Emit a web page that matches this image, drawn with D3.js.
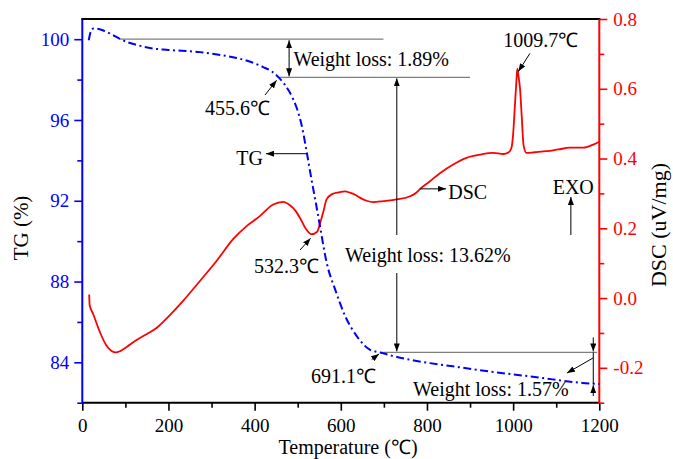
<!DOCTYPE html>
<html>
<head>
<meta charset="utf-8">
<script src="https://cdn.jsdelivr.net/npm/d3@7"></script>
<style>
  html, body { margin: 0; padding: 0; background: #fff; }
  svg { display: block; }
  text { font-family: "Liberation Serif", "Times New Roman", serif; }
</style>
</head>
<body>
<svg id="chart" width="673" height="459"></svg>
<script>
// Thermogravimetric (TG) curve: temperature (°C) vs. remaining mass (%)
const tgTemp = [15, 20, 26, 35, 50, 70, 87, 105, 126, 157, 200, 273, 320, 358, 390, 420, 440, 455.6,
  470, 490, 500, 509, 521, 532, 542, 552, 567, 587, 610, 637, 668, 691.1, 720, 760, 807, 860, 910,
  962, 1020, 1070, 1117, 1160, 1200];
const tgValue = [99.95, 100.4, 100.53, 100.52, 100.42, 100.22, 100.02, 99.85, 99.72, 99.56, 99.47,
  99.36, 99.22, 99.07, 98.88, 98.62, 98.4, 98.11, 97.75, 97.0, 96.45, 95.75, 94.4, 93.05, 91.9, 90.7,
  88.95, 87.6, 86.3, 85.3, 84.62, 84.49, 84.32, 84.13, 83.96, 83.8, 83.65, 83.5, 83.35, 83.22, 83.08,
  82.98, 82.92];

// Differential scanning calorimetry (DSC) curve: temperature (°C) vs. heat flow (uV/mg)
const dscTemp = [16, 17, 25, 41, 56, 68, 78, 88, 103, 126, 150, 173, 196, 234, 273, 312, 350, 382,
  412, 443, 466, 482, 495, 506, 518, 532.3, 545, 552, 560, 567, 580, 595, 610, 621, 633, 644, 660,
  675, 699, 730, 761, 775, 784, 807, 830, 861, 892, 923, 954, 977, 990, 996, 1000, 1004, 1007,
  1009.7, 1012, 1016, 1020, 1024, 1031, 1050, 1078, 1105, 1132, 1163, 1186, 1200];
const dscValue = [0.01, -0.02, -0.045, -0.098, -0.136, -0.152, -0.156, -0.152, -0.14, -0.12,
  -0.103, -0.085, -0.058, -0.008, 0.049, 0.107, 0.169, 0.207, 0.235, 0.268, 0.276, 0.266, 0.25,
  0.228, 0.2, 0.183, 0.19, 0.215, 0.25, 0.283, 0.298, 0.303, 0.306, 0.302, 0.296, 0.288, 0.279,
  0.275, 0.278, 0.283, 0.292, 0.302, 0.313, 0.335, 0.358, 0.383, 0.402, 0.411, 0.416, 0.413, 0.418,
  0.43, 0.47, 0.55, 0.61, 0.658, 0.64, 0.6, 0.52, 0.44, 0.416, 0.418, 0.421, 0.426, 0.431, 0.431,
  0.44, 0.448];

// Tick labels
const xTicks = [0, 200, 400, 600, 800, 1000, 1200];
const xMinorTicks = [100, 300, 500, 700, 900, 1100];
const tgTicks = [84, 88, 92, 96, 100];
const tgMinorTicks = [82, 86, 90, 94, 98];
const dscTicks = [-0.2, 0.0, 0.2, 0.4, 0.6, 0.8];
const dscMinorTicks = [-0.3, -0.1, 0.1, 0.3, 0.5, 0.7];

// Characteristic temperatures and mass-loss steps
const onsetTemp = 455.6;
const endTemp = 691.1;
const dscMinTemp = 532.3;
const dscPeakTemp = 1009.7;
const lossSteps = [1.89, 13.62, 1.57];

const svg = d3.select("#chart");
const L = 82.3, R = 599.3, T = 19, B = 402.7;
const BLUE = "#0000ff", RED = "#ff0000", GRAY = "#7f7f7f";
const SERIF = '"Liberation Serif", "Times New Roman", serif';

const x = d3.scaleLinear().domain([0, 1200]).range([L, R]);
const yTG = d3.scaleLinear().domain([82, 101]).range([B, T]);
const yDSC = d3.scaleLinear().domain([-0.3, 0.8]).range([B, T]);

const defs = svg.append("defs");
defs.append("marker")
  .attr("id", "arrow")
  .attr("viewBox", "0 0 8 6")
  .attr("refX", 8).attr("refY", 3)
  .attr("markerWidth", 8).attr("markerHeight", 6)
  .attr("markerUnits", "userSpaceOnUse")
  .attr("orient", "auto")
  .append("path").attr("d", "M0,0 L8,3 L0,6 Z").attr("fill", "#000");

// Axes
function styleAxis(g, color, size) {
  g.attr("font-family", SERIF);
  g.select(".domain").remove();
  g.selectAll(".tick line").attr("stroke", color).attr("stroke-width", 1.6);
  g.selectAll(".tick text").attr("fill", color).style("font-size", size + "px")
    .style("font-family", SERIF);
}

const xAxis = svg.append("g").attr("transform", `translate(0,${B})`)
  .call(d3.axisBottom(x).tickValues(xTicks).tickSize(8).tickPadding(8).tickFormat(d3.format("d")));
styleAxis(xAxis, "#000", 19);
const xMinor = svg.append("g").attr("transform", `translate(0,${B})`)
  .call(d3.axisBottom(x).tickValues(xMinorTicks).tickSize(5).tickFormat(""));
styleAxis(xMinor, "#000", 19);

const lAxis = svg.append("g").attr("transform", `translate(${L},0)`)
  .call(d3.axisLeft(yTG).tickValues(tgTicks).tickSize(8).tickPadding(5).tickFormat(d3.format("d")));
styleAxis(lAxis, BLUE, 19);
const lMinor = svg.append("g").attr("transform", `translate(${L},0)`)
  .call(d3.axisLeft(yTG).tickValues(tgMinorTicks).tickSize(5).tickFormat(""));
styleAxis(lMinor, BLUE, 19);

const rAxis = svg.append("g").attr("transform", `translate(${R},0)`)
  .call(d3.axisRight(yDSC).tickValues(dscTicks).tickSize(8).tickPadding(6).tickFormat(d3.format(".1f")));
styleAxis(rAxis, RED, 19);
rAxis.selectAll(".tick text").text(d => d3.format(".1f")(d).replace("−", "-"));
const rMinor = svg.append("g").attr("transform", `translate(${R},0)`)
  .call(d3.axisRight(yDSC).tickValues(dscMinorTicks).tickSize(5).tickFormat(""));
styleAxis(rMinor, RED, 19);

// Frame lines
svg.append("line").attr("x1", L - 1).attr("x2", R + 1).attr("y1", T).attr("y2", T)
  .attr("stroke", "#000").attr("stroke-width", 2);
svg.append("line").attr("x1", L).attr("x2", R).attr("y1", B).attr("y2", B)
  .attr("stroke", "#000").attr("stroke-width", 2);
svg.append("line").attr("x1", L).attr("x2", L).attr("y1", T).attr("y2", B + 1)
  .attr("stroke", BLUE).attr("stroke-width", 2);
svg.append("line").attr("x1", R).attr("x2", R).attr("y1", T).attr("y2", B + 1)
  .attr("stroke", RED).attr("stroke-width", 2);

// Axis titles
svg.append("text").attr("x", 348).attr("y", 454).attr("text-anchor", "middle")
  .style("font-size", "20px").text("Temperature (℃)");
svg.append("text").attr("transform", `translate(28,228) rotate(-90)`).attr("text-anchor", "middle")
  .style("font-size", "21px").text("TG (%)");
svg.append("text").attr("transform", `translate(666,225) rotate(-90)`).attr("text-anchor", "middle")
  .style("font-size", "22px").text("DSC (uV/mg)");

// Curves
const tgData = tgTemp.map((t, i) => [t, tgValue[i]]);
const dscData = dscTemp.map((t, i) => [t, dscValue[i]]);

svg.append("path").datum(dscData)
  .attr("d", d3.line().x(d => x(d[0])).y(d => yDSC(d[1])).curve(d3.curveMonotoneX))
  .attr("fill", "none").attr("stroke", RED).attr("stroke-width", 1.8);

// TG levels bounding each mass-loss step
const tgLevels = [100];
lossSteps.forEach(s => tgLevels.push(+(tgLevels[tgLevels.length - 1] - s).toFixed(2)));

// Gray reference levels
const gray = svg.append("g").attr("stroke", GRAY).attr("stroke-width", 1.2).attr("fill", "none");
gray.append("line").attr("x1", x(87)).attr("x2", x(699)).attr("y1", yTG(tgLevels[0])).attr("y2", yTG(tgLevels[0]));
gray.append("line").attr("x1", x(onsetTemp)).attr("x2", x(900)).attr("y1", yTG(tgLevels[1])).attr("y2", yTG(tgLevels[1]));
gray.append("line").attr("x1", x(endTemp)).attr("x2", x(1195)).attr("y1", yTG(tgLevels[2])).attr("y2", yTG(tgLevels[2]));

svg.append("path").datum(tgData)
  .attr("d", d3.line().x(d => x(d[0])).y(d => yTG(d[1])).curve(d3.curveMonotoneX))
  .attr("fill", "none").attr("stroke", BLUE).attr("stroke-width", 2)
  .attr("stroke-dasharray", "8,3.5,2,3.5");

// Arrows
const ann = svg.append("g").attr("stroke", "#000").attr("stroke-width", 1);
function arrow(x1, y1, x2, y2) {
  ann.append("line").attr("x1", x1).attr("y1", y1).attr("x2", x2).attr("y2", y2)
    .attr("marker-end", "url(#arrow)");
}
function seg(x1, y1, x2, y2) {
  ann.append("line").attr("x1", x1).attr("y1", y1).attr("x2", x2).attr("y2", y2);
}

const a0 = yTG(tgLevels[0]), a1 = yTG(tgLevels[1]), a2 = yTG(tgLevels[2]), a3 = yTG(tgLevels[3]);

// Step 1 double arrow
const xs1 = x(480);
const mid1 = (a0 + a1) / 2;
arrow(xs1, mid1, xs1, a0 + 1);
arrow(xs1, mid1, xs1, a1 - 1);

// Step 2 double arrow, broken around its label
const xs2 = x(730);
arrow(xs2, 235, xs2, a1 + 1);
arrow(xs2, 273, xs2, a2 - 1);

// Step 3 arrows at the end of the run
const xs3 = x(1186);
arrow(xs3, a2 - 15, xs3, a2 - 1);
seg(xs3, a2, xs3, a3);
arrow(xs3, a3 + 12, xs3, a3 + 1);
arrow(xs3, yTG(84.22), x(1125), yTG(83.47));

// Leaders to characteristic points
arrow(265, 95, x(onsetTemp) - 2, yTG(98.11) + 3);
arrow(x(521), yTG(94.33), 266, yTG(94.33));
arrow(300, 250, x(dscMinTemp) - 1, yDSC(0.183) + 4);
arrow(371.7, 359.5, x(endTemp) - 1, yTG(84.49) + 1.5);
arrow(x(784), yDSC(0.313), 446, yDSC(0.313));
arrow(530, 53.3, x(dscPeakTemp) + 1, yDSC(0.658) + 3);
arrow(x(1134), 235, x(1134), 197);

// Labels
const lab = svg.append("g").attr("fill", "#000").style("font-size", "20px");
function label(tx, ty, s, anchor) {
  lab.append("text").attr("x", tx).attr("y", ty).attr("text-anchor", anchor || "start").text(s);
}
label(293.4, 66, `Weight loss: ${lossSteps[0].toFixed(2)}%`);
label(345, 262, `Weight loss: ${lossSteps[1].toFixed(2)}%`);
label(413, 396, `Weight loss: ${lossSteps[2].toFixed(2)}%`);
label(205, 115, `${onsetTemp}℃`);
label(254, 273, `${dscMinTemp}℃`);
label(376, 383, `${endTemp}℃`, "end");
label(503.3, 47, `${dscPeakTemp}℃`);
label(263, 165, "TG", "end");
label(448.3, 199, "DSC");
label(552.7, 194, "EXO");
</script>
</body>
</html>
